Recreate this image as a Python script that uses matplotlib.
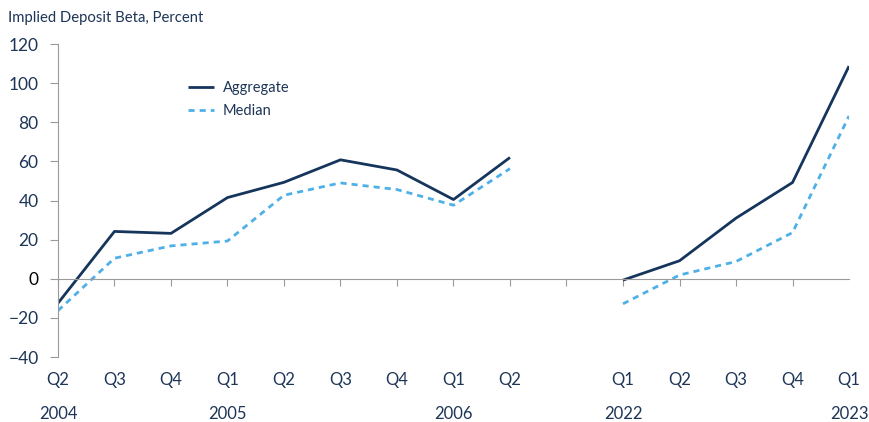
import numpy as np
from matplotlib import pyplot as plt
from matplotlib import transforms

# quarters shown on the axis (blank slot between the two periods)
quarters = ["Q2", "Q3", "Q4", "Q1", "Q2", "Q3", "Q4", "Q1", "Q2", "",
            "Q1", "Q2", "Q3", "Q4", "Q1"]
years = {0: "2004", 3: "2005", 7: "2006", 10: "2022", 14: "2023"}

aggregate = [-12.5, 24.2, 23.2, 41.5, 49.3, 60.8, 55.6, 40.5, 62.0, np.nan,
             -0.7, 9.2, 31.0, 49.2, 108.7]
median = [-16.3, 10.5, 16.8, 19.3, 42.7, 49.0, 45.6, 37.6, 56.3, np.nan,
          -12.8, 1.9, 8.8, 23.6, 83.2]

navy = "#16355c"
light = "#4fb0e8"
txt = "#1d3557"
grey = "#9a9a9a"

plt.rcParams['font.family'] = ['Lato', 'DejaVu Sans']

fig = plt.figure(figsize=(8.69, 4.22), dpi=100)
ax = fig.add_axes([0.0667, 0.154, 0.9103, 0.7417])

x = np.arange(len(quarters))
ax.plot(x, aggregate, color=navy, lw=2.0, label="Aggregate", solid_capstyle='butt')
ax.plot(x, median, color=light, lw=2.0, ls=(0, (2.2, 1.8)), label="Median")

ax.set_xlim(0, len(quarters) - 1)
ax.set_ylim(-40, 120)
ax.set_yticks(range(-40, 121, 20))

for s in ['top', 'right']:
    ax.spines[s].set_visible(False)
ax.spines['left'].set_color(grey)
ax.spines['bottom'].set_color(grey)
ax.spines['bottom'].set_position(('data', 0))

ax.tick_params(axis='y', colors=grey, length=6, width=0.8, labelcolor=txt, labelsize=12.5, pad=8)
for lab in ax.get_yticklabels():
    if lab.get_text() == "0":
        lab.set_color("black")
ax.set_xticks(x[:-1])
ax.tick_params(axis='x', colors=grey, length=5, width=0.8, labelbottom=False)

trans = transforms.blended_transform_factory(ax.transData, ax.transAxes)
for i, q in enumerate(quarters):
    if q:
        ax.text(i, -0.075, q, transform=trans, ha='center', va='center', fontsize=12, color=txt)
for i, yr in years.items():
    ax.text(i, -0.182, yr, transform=trans, ha='center', va='center', fontsize=12, color=txt)

fig.text(0.009, 0.958, "Implied Deposit Beta, Percent", fontsize=10.7, color=txt, va='center', ha='left')

ax.legend(loc='upper left', bbox_to_anchor=(0.208, 0.825), bbox_transform=fig.transFigure,
          frameon=False, fontsize=10.5, handlelength=1.8, handletextpad=0.6, labelcolor=txt,
          borderpad=0, labelspacing=0.62)

fig.savefig("out.png", dpi=100)
